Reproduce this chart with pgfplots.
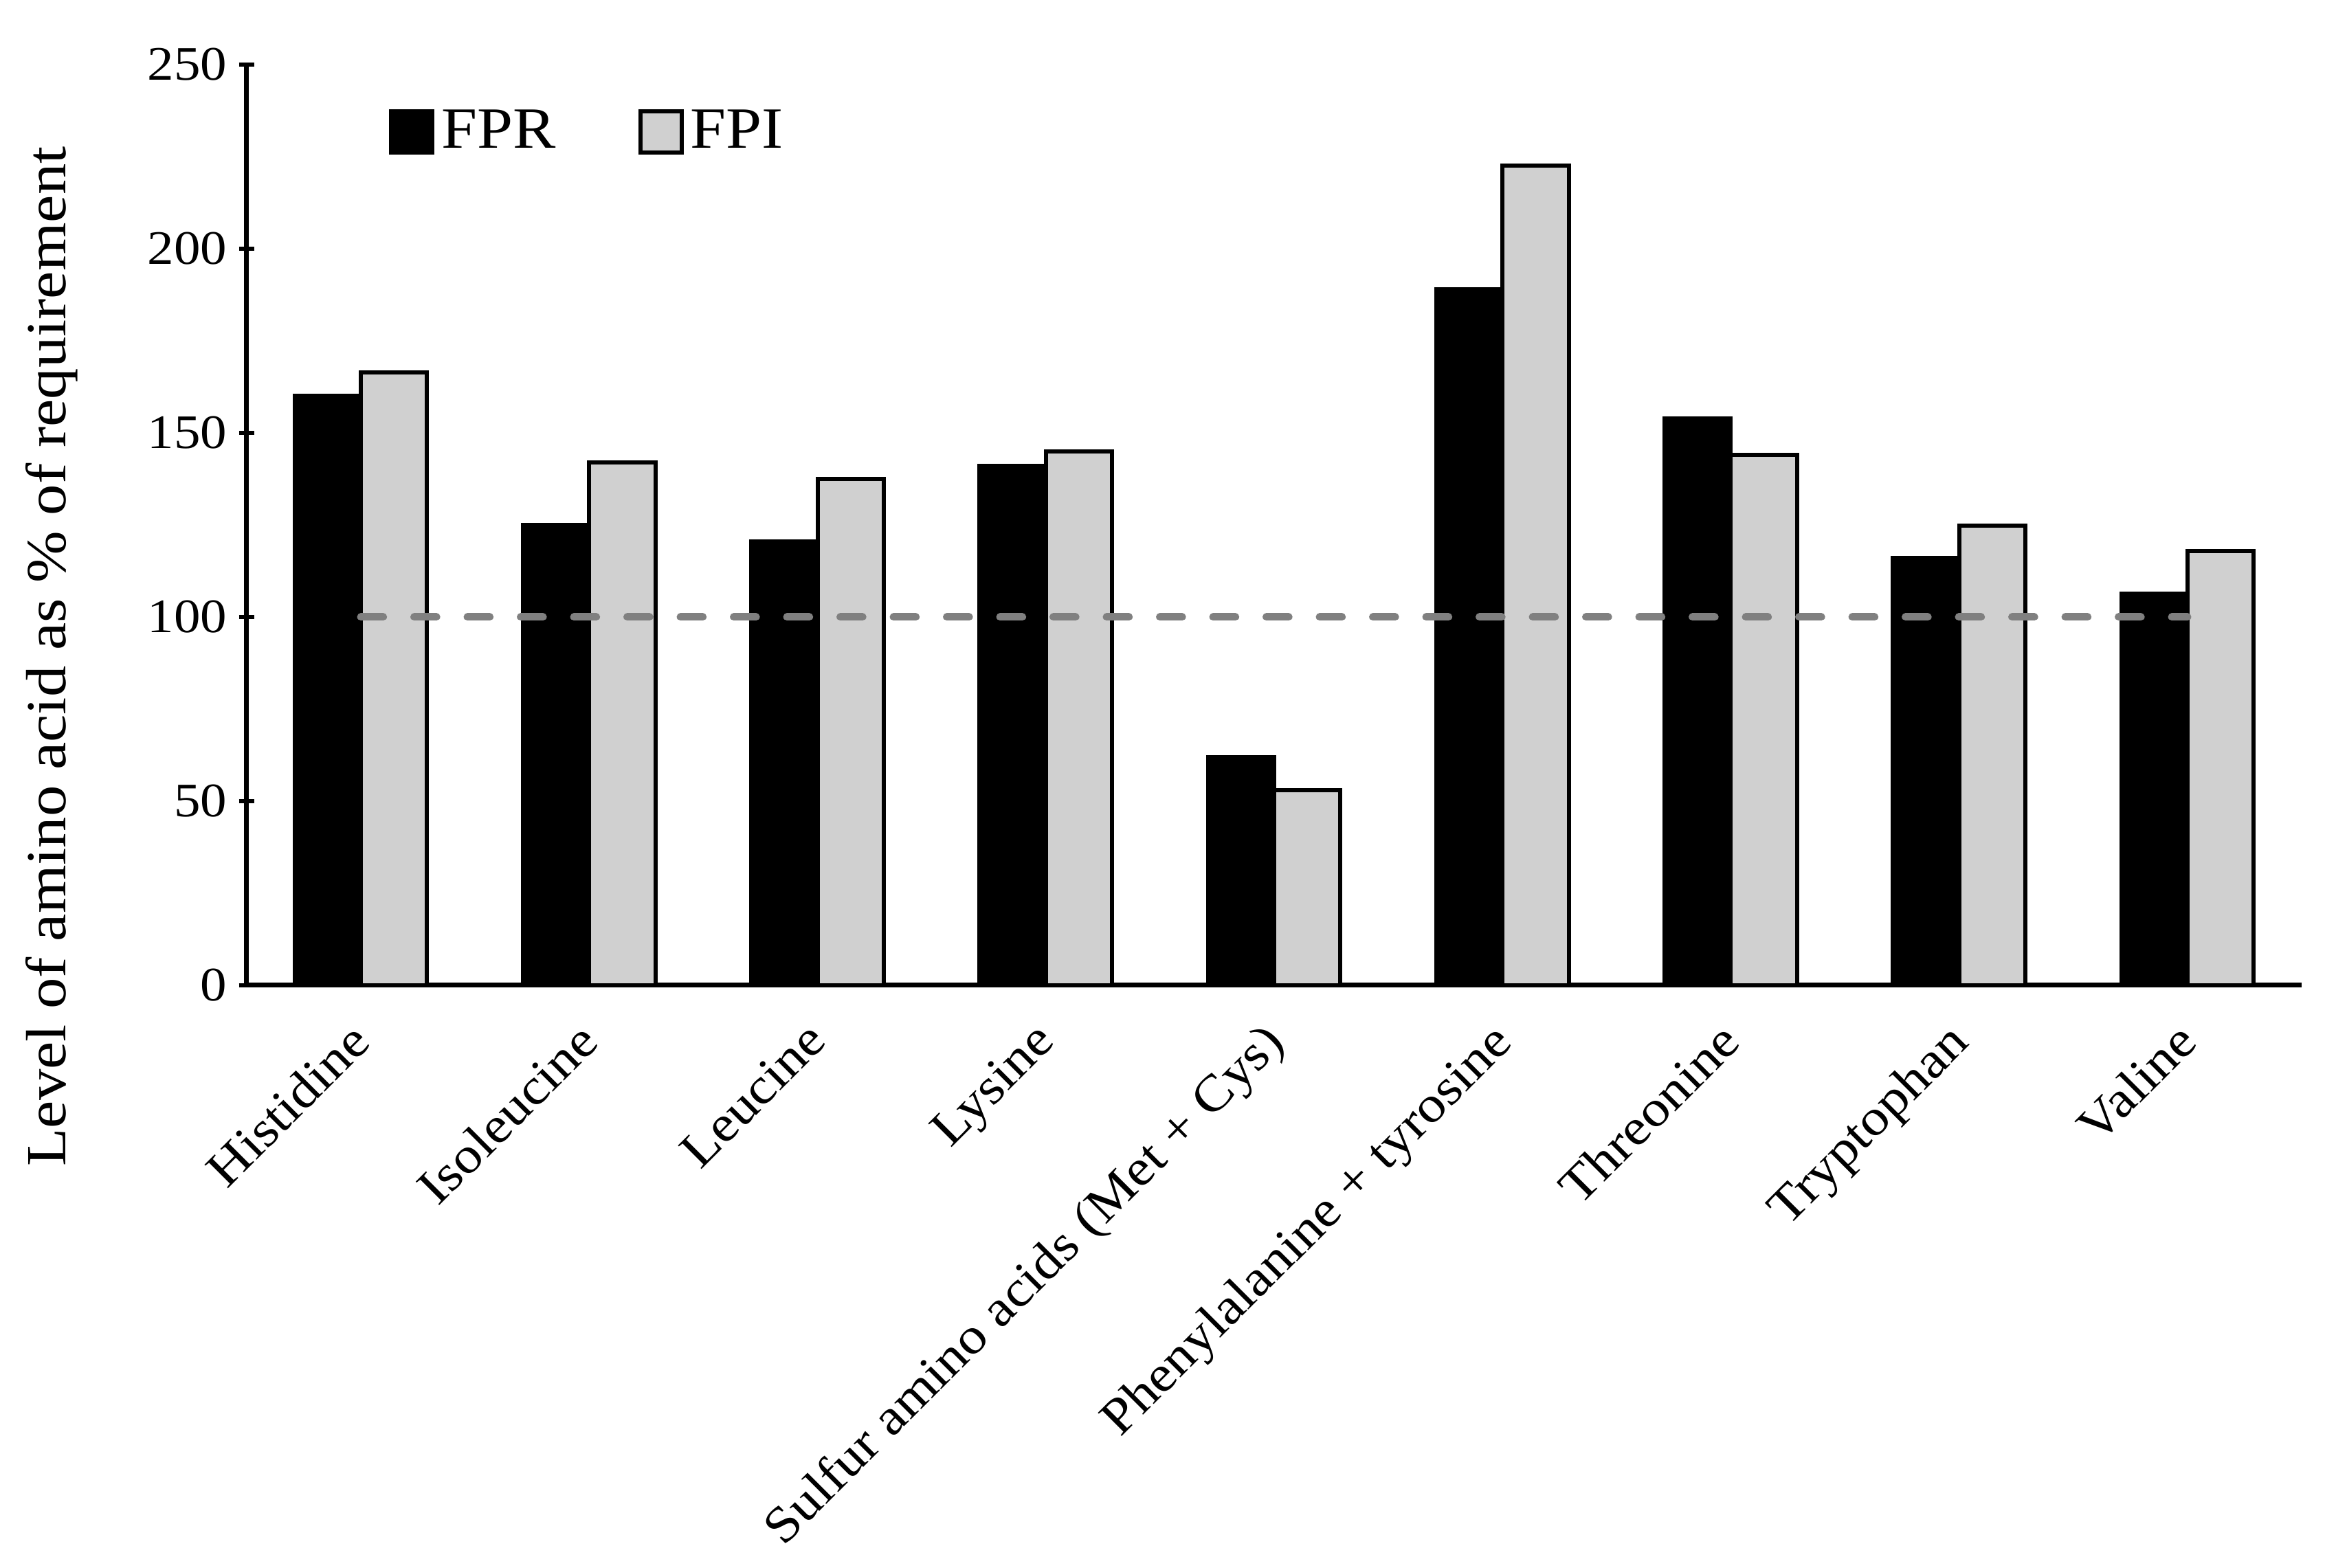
\documentclass[border=0pt]{standalone}
\usepackage{fontspec}
\setmainfont{Liberation Serif}[FakeStretch=1.1]
\usepackage{pgfplots}
\pgfplotsset{compat=1.18}
\definecolor{fpi}{RGB}{208,208,208}
\definecolor{refline}{RGB}{128,128,128}
\begin{document}
\begin{tikzpicture}[font=\fontsize{14}{16}\selectfont]
\begin{axis}[
  scale only axis,
  width=598pt, height=268pt,
  xmin=-0.5, xmax=8.5,
  ymin=0, ymax=250,
  ytick={0,50,100,150,200,250},
  xtick={0,1,2,3,4,5,6,7,8},
  xticklabels={Histidine,Isoleucine,Leucine,Lysine,Sulfur amino acids (Met + Cys),Phenylalanine + tyrosine,Threonine,Tryptophan,Valine},
  xticklabel style={font=\fontsize{14.8}{17}\selectfont, rotate=45, anchor=north east, inner sep=2pt, yshift=-0.5pt, xshift=-6pt},
  x tick style={draw=none},
  y tick style={line width=1.2pt, black},
  tick align=outside,
  major tick length=4.5pt,
  axis lines=left,
  axis line style={-, line width=1.4pt},
  /pgf/number format/assume math mode=true,
  ylabel={Level of amino acid as \% of requirement},
  ylabel style={font=\fontsize{16.5}{18}\selectfont, at={(axis description cs:-0.095,0.357)}, anchor=center, rotate=0},
  legend style={font=\fontsize{17}{19}\selectfont, at={(axis description cs:0.069,0.927)}, anchor=west, draw=none, fill=none,
    legend columns=2, inner sep=0pt, /tikz/every even column/.append style={column sep=22pt},
    legend cell align=left},
  clip=false,
]
\addplot[ybar, bar width=0.29, bar shift=-0.145, fill=black, draw=black, line width=1.2pt,
  legend image code/.code={\draw[fill=black, draw=black, line width=1.2pt] (0pt,-6pt) rectangle (12pt,6pt);}]
  coordinates {(0,160) (1,125) (2,120.5) (3,141) (4,62) (5,189) (6,154) (7,116) (8,106.3)};
\addlegendentry{FPR}
\addplot[ybar, bar width=0.29, bar shift=0.145, fill=fpi, draw=black, line width=1.2pt,
  legend image code/.code={\draw[fill=fpi, draw=black, line width=1.2pt] (0pt,-6pt) rectangle (12pt,6pt);}]
  coordinates {(0,166.5) (1,142) (2,137.5) (3,145) (4,53) (5,222.5) (6,144) (7,124.8) (8,117.9)};
\addlegendentry{FPI}
\addplot[forget plot, refline, line width=2.2pt, line cap=round, dash pattern=on 6.5pt off 9pt]
  coordinates {(0,100) (8,100)};
\coordinate (bl) at (rel axis cs:0,0);
\coordinate (tr) at (rel axis cs:1,1);
\end{axis}
\pgfresetboundingbox
\path ([shift={(-71.8pt,-169.6pt)}]bl) rectangle ([shift={(10pt,18.8pt)}]tr);
\end{tikzpicture}
\end{document}
